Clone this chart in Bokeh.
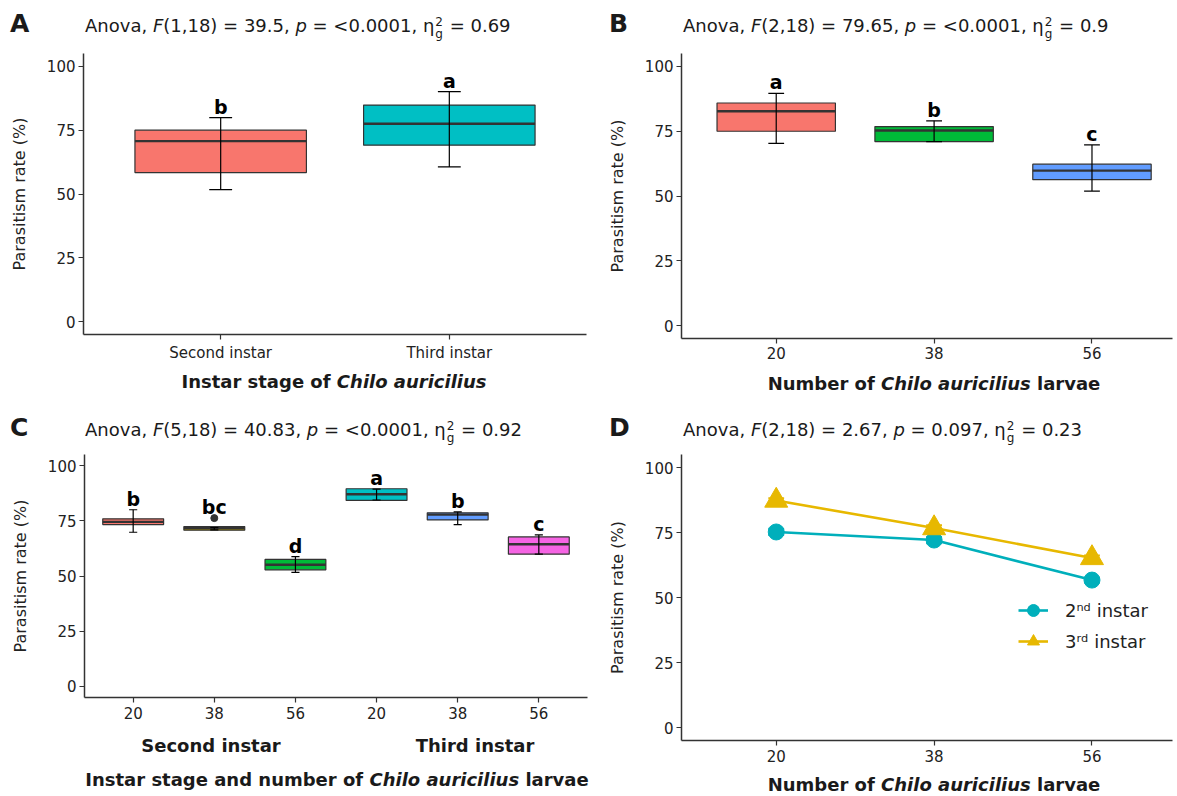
from bokeh.plotting import figure
from bokeh.models import FixedTicker, Legend, LegendItem, Range1d, Div
from bokeh.layouts import column, row
from bokeh.embed import file_html
from bokeh.resources import INLINE
from bokeh.core.properties import value

FONT = "DejaVu Sans"
INK = "#222222"
AX = "#333333"

# ---------------- data ----------------
A_groups = ["Second instar", "Third instar"]
A_q1 = [58.4, 69.1]
A_med = [70.7, 77.5]
A_q3 = [75.0, 84.8]
A_lo = [51.7, 60.6]
A_hi = [79.9, 90.1]
A_letters = ["b", "a"]
A_colors = ["#F8766D", "#00BFC4"]
A_stats = ["1,18", "39.5", "<0.0001", "0.69"]

B_groups = ["20", "38", "56"]
B_q1 = [75.0, 71.0, 56.3]
B_med = [82.7, 75.3, 59.8]
B_q3 = [85.9, 76.8, 62.3]
B_lo = [70.3, 71.0, 51.9]
B_hi = [89.6, 79.0, 69.7]
B_letters = ["a", "b", "c"]
B_colors = ["#F8766D", "#00BA38", "#619CFF"]
B_stats = ["2,18", "79.65", "<0.0001", "0.9"]

C_ticks = ["20", "38", "56", "20", "38", "56"]
C_stage = ["Second instar", "Third instar"]
C_q1 = [73.3, 70.7, 52.8, 84.2, 75.4, 59.9]
C_med = [74.5, 71.6, 55.1, 87.0, 77.8, 64.4]
C_q3 = [75.9, 72.4, 57.5, 89.5, 78.6, 67.7]
C_lo = [69.8, 70.9, 51.6, 84.4, 73.3, 59.9]
C_hi = [80.0, 71.9, 58.8, 89.3, 79.0, 68.6]
C_outlier_pos = [2]
C_outlier_val = [76.2]
C_letters = ["b", "bc", "d", "a", "b", "c"]
C_colors = ["#F8766D", "#B79F00", "#00BA38", "#00BFC4", "#619CFF", "#F564E3"]
C_stats = ["5,18", "40.83", "<0.0001", "0.92"]

D_density = ["20", "38", "56"]
D_2nd = [75.2, 72.1, 56.7]
D_2nd_se = [1.2, 1.2, 0.9]
D_3rd = [87.3, 76.7, 65.2]
D_3rd_se = [0.9, 1.1, 1.0]
D_series = ["2\u207f\u1d48 instar", "3\u02b3\u1d48 instar"]
D_colors = ["#00AFBB", "#E7B800"]
D_stats = ["2,18", "2.67", "0.097", "0.23"]


# ---------------- helpers ----------------
def make_fig(w, h, mbl, mbr, mbt, mbb, n, xend, lab_standoff=4):
    p = figure(width=w, height=h, x_range=Range1d(0.4, xend),
               y_range=Range1d(-5, 105), output_backend="svg", toolbar_location=None,
               min_border_left=mbl, min_border_right=mbr,
               min_border_top=mbt, min_border_bottom=mbb)
    p.outline_line_color = None
    p.xgrid.visible = False
    p.ygrid.visible = False
    for ax in (p.xaxis[0], p.yaxis[0]):
        ax.axis_line_color = AX
        ax.axis_line_width = 1.5
        ax.major_tick_line_color = AX
        ax.major_tick_line_width = 1.2
        ax.major_tick_out = 5
        ax.major_tick_in = 0
        ax.minor_tick_out = 0
        ax.minor_tick_in = 0
        ax.major_label_text_font = FONT
        ax.major_label_text_font_size = "15px"
        ax.major_label_text_color = INK
    p.yaxis.ticker = FixedTicker(ticks=[0, 25, 50, 75, 100])
    p.yaxis.major_label_standoff = 3
    p.yaxis.axis_label = "Parasitism rate (%)"
    p.yaxis.axis_label_text_font = FONT
    p.yaxis.axis_label_text_font_style = "normal"
    p.yaxis.axis_label_text_font_size = "16px"
    p.yaxis.axis_label_text_color = INK
    p.yaxis.axis_label_standoff = 15
    p.xaxis.ticker = FixedTicker(ticks=list(range(1, n + 1)))
    p.xaxis.major_label_standoff = lab_standoff
    return p


def span(left, base, size, html, bold=False, center=False):
    top = base - 0.846 * size
    tr = "transform:translateX(-50%);" if center else ""
    fw = "bold" if bold else "normal"
    return (f'<span style="position:absolute;left:{left}px;top:{top:.1f}px;'
            f'font-size:{size}px;line-height:1;font-weight:{fw};white-space:nowrap;{tr}">'
            f'{html}</span>')


def box_div(w, h, spans):
    html = (f'<div style="position:relative;width:{w}px;height:{h}px;overflow:visible;'
            f'font-family:\'{FONT}\';color:#1a1a1a;">' + "".join(spans) + '</div>')
    return Div(text=html, width=w, height=h, margin=0, disable_math=True)


def header(w, h, letter, lx, lbase, tx, tbase, stats):
    df, fval, pval, eta = stats
    stack = ('<span style="display:inline-block;vertical-align:-6px;font-size:12px;'
             'line-height:12px;margin:0 1px;"><span style="display:block">2</span>'
             '<span style="display:block">g</span></span>')
    title = (f'Anova, <i>F</i>({df}) = {fval}, <i>p</i> = {pval.replace("<", "&lt;")}, '
             f'\u03b7{stack} = {eta}')
    return box_div(w, h, [span(lx, lbase, 25, letter, bold=True),
                          span(tx, tbase, 18, title)])


def boxes(p, q1, med, q3, lo, hi, colors, letters, extra_top=None):
    xs = list(range(1, len(q1) + 1))
    p.vbar(x=xs, width=0.75, bottom=q1, top=q3, fill_color=colors,
           line_color=AX, line_width=1.2)
    p.segment(x0=[x - 0.375 for x in xs], y0=med, x1=[x + 0.375 for x in xs], y1=med,
              line_color=AX, line_width=2.4)
    p.segment(x0=xs, y0=lo, x1=xs, y1=hi, line_color="black", line_width=1.2)
    p.segment(x0=[x - 0.05 for x in xs], y0=hi, x1=[x + 0.05 for x in xs], y1=hi,
              line_color="black", line_width=1.2)
    p.segment(x0=[x - 0.05 for x in xs], y0=lo, x1=[x + 0.05 for x in xs], y1=lo,
              line_color="black", line_width=1.2)
    ly = list(hi)
    if extra_top:
        for pos, v in extra_top:
            ly[pos - 1] = max(ly[pos - 1], v)
    p.text(x=xs, y=ly, text=letters, text_font=value(FONT), text_font_style="bold",
           text_font_size="19px", text_align="center", text_baseline="bottom",
           y_offset=0, text_color="black")


def ital_title(parts):
    return "".join(f"<i>{t}</i>" if it else t for t, it in parts)


XT = 18  # x-axis title size

# ---------------- panel A (page x 0..598, y 0..400) ----------------
hA = header(598, 48, "A", 10, 32, 85, 31, A_stats)
pA = make_fig(598, 316, 83, 12, 5, 30, len(A_groups), 2.6)
pA.xaxis.major_label_overrides = {i + 1: s for i, s in enumerate(A_groups)}
boxes(pA, A_q1, A_med, A_q3, A_lo, A_hi, A_colors, A_letters)
fA = box_div(598, 36, [span(334, 24, XT, ital_title([("Instar stage of ", False),
                                                      ("Chilo auricilius", True)]),
                            bold=True, center=True)])

# ---------------- panel B (page x 598..1177) ----------------
hB = header(579, 48, "B", 11, 32, 85, 31, B_stats)
pB = make_fig(579, 316, 83, 5, 5, 26, len(B_groups), 3.51, lab_standoff=3)
pB.xaxis.major_label_overrides = {i + 1: s for i, s in enumerate(B_groups)}
boxes(pB, B_q1, B_med, B_q3, B_lo, B_hi, B_colors, B_letters)
fB = box_div(579, 36, [span(336, 26, XT, ital_title([("Number of ", False),
                                                      ("Chilo auricilius", True),
                                                      (" larvae", False)]),
                            bold=True, center=True)])

# ---------------- panel C (page y 400..796) ----------------
hC = header(598, 49, "C", 10, 36, 85, 35, C_stats)
pC = make_fig(598, 280, 84, 11, 5, 32, len(C_ticks), 6.6)
pC.xaxis.major_label_overrides = {i + 1: s for i, s in enumerate(C_ticks)}
boxes(pC, C_q1, C_med, C_q3, C_lo, C_hi, C_colors, C_letters,
      extra_top=list(zip(C_outlier_pos, C_outlier_val)))
pC.scatter(x=C_outlier_pos, y=C_outlier_val, size=7, color=AX)
fC = box_div(598, 67, [span(211, 23, 18, C_stage[0], bold=True, center=True),
                       span(475, 23, 18, C_stage[1], bold=True, center=True),
                       span(337, 57, XT, ital_title([("Instar stage and number of ", False),
                                                     ("Chilo auricilius", True),
                                                     (" larvae", False)]),
                            bold=True, center=True)])

# ---------------- panel D ----------------
hD = header(579, 49, "D", 11, 36, 85, 35, D_stats)
pD = make_fig(579, 319, 83, 5, 5, 28, len(D_density), 3.51)
pD.xaxis.major_label_overrides = {i + 1: s for i, s in enumerate(D_density)}
xs = list(range(1, len(D_density) + 1))
rends = []
for vals, se, col, mk, sz in [(D_2nd, D_2nd_se, D_colors[0], "circle", 16),
                              (D_3rd, D_3rd_se, D_colors[1], "triangle", 23)]:
    lo = [v - e for v, e in zip(vals, se)]
    hi = [v + e for v, e in zip(vals, se)]
    pD.segment(x0=xs, y0=lo, x1=xs, y1=hi, line_color=col, line_width=2)
    pD.segment(x0=[x - 0.05 for x in xs], y0=hi, x1=[x + 0.05 for x in xs], y1=hi,
               line_color=col, line_width=2)
    pD.segment(x0=[x - 0.05 for x in xs], y0=lo, x1=[x + 0.05 for x in xs], y1=lo,
               line_color=col, line_width=2)
    ln = pD.line(x=xs, y=vals, line_color=col, line_width=2.6)
    sc = pD.scatter(x=xs, y=vals, marker=mk, size=sz, fill_color=col, line_color=col)
    rends.append([ln, sc])
legend = Legend(items=[LegendItem(label=D_series[0], renderers=rends[0]),
                       LegendItem(label=D_series[1], renderers=rends[1])],
                location=(337, 84), glyph_width=30, glyph_height=30, spacing=1,
                padding=10, label_standoff=17, label_text_font=FONT,
                label_text_font_size="18px", label_text_color=INK,
                background_fill_alpha=0, border_line_color=None)
pD.add_layout(legend)
fD = box_div(579, 28, [span(336, 23.5, XT, ital_title([("Number of ", False),
                                                        ("Chilo auricilius", True),
                                                        (" larvae", False)]),
                            bold=True, center=True)])

colA = column(hA, pA, fA, spacing=0)
colB = column(hB, pB, fB, spacing=0)
colC = column(hC, pC, fC, spacing=0)
colD = column(hD, pD, fD, spacing=0)
layout = column(row(colA, colB, spacing=0), row(colC, colD, spacing=0), spacing=0)
open("out.html", "w").write(file_html(layout, INLINE))
